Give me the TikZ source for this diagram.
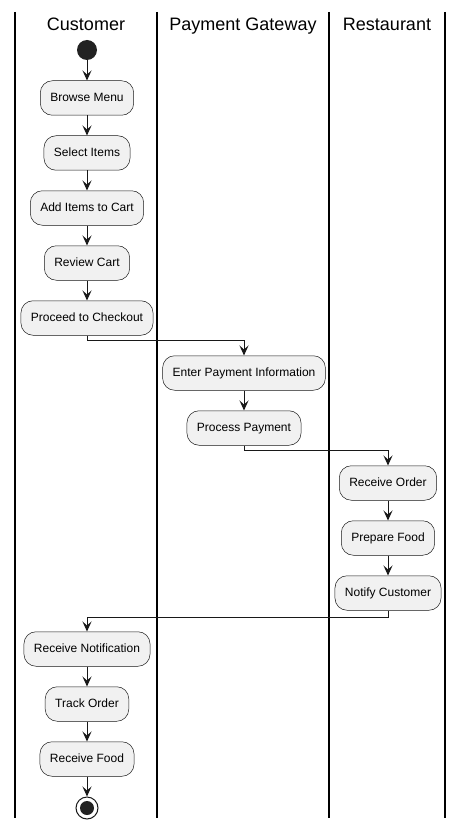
\documentclass[tikz,border=0pt]{standalone}
\usepackage{fontspec}
\setmainfont{Liberation Sans}
\usetikzlibrary{arrows.meta}
\definecolor{boxfill}{HTML}{F1F1F1}
\definecolor{ink}{HTML}{181818}
\definecolor{dot}{HTML}{222222}
\begin{document}
\begin{tikzpicture}[x=1pt,y=-1pt,
  act/.style={draw=ink, line width=0.5pt, fill=boxfill, rounded corners=12pt,
    minimum height=34.5pt, inner xsep=10pt, text height=9pt, text depth=2.5pt,
    font=\fontsize{12}{14}\selectfont, text=black},
  flow/.style={draw=ink, line width=1pt, -{Stealth[length=10pt,width=9pt,inset=4pt]}},
  lane/.style={draw=black, line width=1.5pt},
  head/.style={font=\fontsize{18}{21}\selectfont, text=black, anchor=base}]
\useasboundingbox[fill=white] (0,0) rectangle (464,829);
% lanes
\foreach \x in {15,157,329,445} \draw[lane] (\x,12) -- (\x,818);
\node[head] (hc) at (86,31) {Customer};
\node[head] (hp) at (243,31) {Payment Gateway};
\node[head] (hr) at (387,31) {Restaurant};
% nodes
\node[circle, fill=dot, minimum size=20pt, inner sep=0pt] (start) at (87,50) {};
\node[act] (a1) at (87,98) {Browse Menu};
\node[act] (a2) at (87,153) {Select Items};
\node[act] (a3) at (87,208) {Add Items to Cart};
\node[act] (a4) at (87,263) {Review Cart};
\node[act] (a5) at (87,318) {Proceed to Checkout};
\node[act] (b1) at (244,373) {Enter Payment Information};
\node[act] (b2) at (244,428) {Process Payment};
\node[act] (c1) at (388,483) {Receive Order};
\node[act] (c2) at (388,538) {Prepare Food};
\node[act] (c3) at (388,593) {Notify Customer};
\node[act] (d1) at (87,649) {Receive Notification};
\node[act] (d2) at (87,704) {Track Order};
\node[act] (d3) at (87,759) {Receive Food};
\node[circle, draw=ink, line width=1pt, fill=white, minimum size=22pt, inner sep=0pt] (stop) at (87,808) {};
\node[circle, fill=dot, minimum size=14pt, inner sep=0pt] (stopin) at (87,808) {};
% connectors
\draw[flow] (start) -- (a1);
\draw[flow] (a1) -- (a2);
\draw[flow] (a2) -- (a3);
\draw[flow] (a3) -- (a4);
\draw[flow] (a4) -- (a5);
\draw[flow] (a5.south) |- (244,340) -- (b1.north);
\draw[flow] (b1) -- (b2);
\draw[flow] (b2.south) |- (388,450) -- (c1.north);
\draw[flow] (c1) -- (c2);
\draw[flow] (c2) -- (c3);
\draw[flow] (c3.south) |- (87,617) -- (d1.north);
\draw[flow] (d1) -- (d2);
\draw[flow] (d2) -- (d3);
\draw[flow] (d3) -- (stop);
\end{tikzpicture}
\end{document}
